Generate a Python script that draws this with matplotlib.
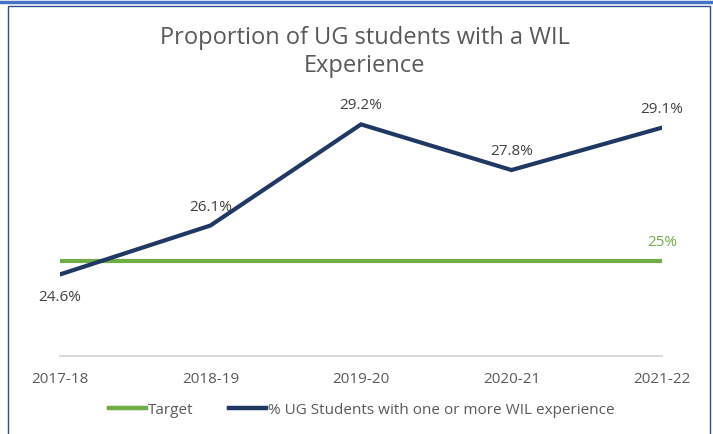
import matplotlib
matplotlib.use("Agg")
import matplotlib.pyplot as plt
from matplotlib.lines import Line2D

years = ["2017-18", "2018-19", "2019-20", "2020-21", "2021-22"]
wil_pct = [24.6, 26.1, 29.2, 27.8, 29.1]
target = [25, 25, 25, 25, 25]

plt.rcParams['font.family'] = ['Open Sans', 'DejaVu Sans']
W, H = 713, 435
fig = plt.figure(figsize=(W/100, H/100), dpi=100)
ax = fig.add_axes([60/W, 1-357/H, (662-60)/W, (357-96)/H])

x = range(len(years))
txt = '#595959'
green = '#70AD47'
navy = '#1F3864'
ax.plot(x, target, color=green, lw=3.0, solid_capstyle='butt')
ax.plot(x, wil_pct, color=navy, lw=3.0, solid_joinstyle='miter')
ax.set_xlim(0, 4)
ax.set_ylim(22.1, 30.1)
for s in ['left', 'right', 'top']:
    ax.spines[s].set_visible(False)
ax.spines['bottom'].set_color('#D9D9D9')
ax.spines['bottom'].set_linewidth(1.5)
ax.set_yticks([])
ax.set_xticks(list(x))
ax.set_xticklabels(years, color=txt, fontsize=11)
ax.tick_params(axis='x', length=0, pad=11)

for i, v in enumerate(wil_pct):
    if i == 0:
        ax.annotate(f"{v}%", (i, v), xytext=(0, -16), textcoords='offset points',
                    ha='center', va='center', color='#404040', fontsize=11)
    else:
        ax.annotate(f"{v}%", (i, v), xytext=(0, 14), textcoords='offset points',
                    ha='center', va='center', color='#404040', fontsize=11)
ax.annotate(f"{target[-1]}%", (4, target[-1]), xytext=(0, 14), textcoords='offset points',
            ha='center', va='center', color=green, fontsize=11, annotation_clip=False)

fig.text(365/W, 1-38/H, "Proportion of UG students with a WIL", ha='center', va='center',
         fontsize=17, color=txt)
fig.text(365/W, 1-66/H, "Experience", ha='center', va='center', fontsize=17, color=txt)

handles = [Line2D([], [], color=green, lw=3.2), Line2D([], [], color=navy, lw=3.2)]
fig.legend(handles, ["Target", "% UG Students with one or more WIL experience"],
           loc='center', bbox_to_anchor=(362/W, 1-411/H), ncol=2, frameon=False,
           fontsize=11, labelcolor=txt, handlelength=2.4, handletextpad=0.15, columnspacing=2.3)

# borders
fig.add_artist(Line2D([0, 1], [1-3/H, 1-3/H], color='#4472C4', lw=2.5, transform=fig.transFigure))
fig.add_artist(Line2D([8/W, 8/W, 710/W, 710/W], [0, 1-7/H, 1-7/H, 0], color='#2F4D8F', lw=1.0,
                      transform=fig.transFigure))

fig.savefig("out.png", dpi=100)
